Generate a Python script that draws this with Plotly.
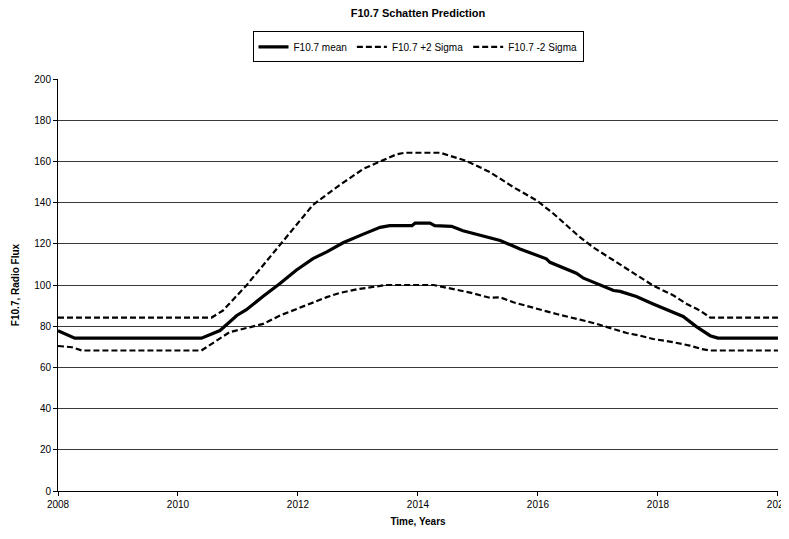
import plotly.graph_objects as go

# --- data ---
mean_years = [2008.0, 2008.28, 2010.39, 2010.70, 2010.98, 2011.14, 2011.42, 2011.70, 2011.97, 2012.25,
              2012.48, 2012.69, 2012.76, 2013.09, 2013.37, 2013.53, 2013.90, 2013.95, 2014.20, 2014.28,
              2014.56, 2014.75, 2014.98, 2015.20, 2015.37, 2015.70, 2016.14, 2016.20, 2016.64, 2016.76,
              2017.26, 2017.37, 2017.64, 2017.92, 2018.20, 2018.42, 2018.64, 2018.87, 2019.0, 2020.0]
mean_vals = [77.8, 74.2, 74.2, 77.9, 85.2, 88.0, 94.5, 100.7, 107.2, 112.8,
             116.1, 119.3, 120.6, 124.7, 128.0, 128.8, 128.8, 130.0, 130.0, 128.8,
             128.5, 126.3, 124.7, 122.8, 121.6, 117.5, 112.7, 111.0, 105.7, 103.3,
             97.3, 96.9, 94.4, 90.8, 87.6, 84.7, 79.8, 75.4, 74.2, 74.2]

plus_years = [2008.0, 2010.56, 2010.75, 2011.14, 2011.42, 2011.70, 2012.25, 2012.53, 2012.70, 2013.09,
              2013.64, 2013.78, 2014.37, 2014.81, 2015.03, 2015.20, 2015.59, 2015.98, 2016.26, 2016.70,
              2016.92, 2017.26, 2017.64, 2017.92, 2018.26, 2018.48, 2018.70, 2018.87, 2020.0]
plus_vals = [84.2, 84.2, 87.6, 99.8, 109.6, 119.3, 138.9, 145.0, 148.6, 156.4,
             163.4, 164.2, 164.2, 160.2, 157.2, 154.8, 147.5, 141.0, 134.6, 123.2,
             118.3, 111.9, 104.6, 99.7, 94.9, 90.8, 87.6, 84.2, 84.2]

minus_years = [2008.0, 2008.23, 2008.40, 2010.39, 2010.86, 2011.42, 2011.70, 2012.48, 2012.69, 2012.98,
               2013.42, 2013.48, 2014.26, 2014.48, 2014.87, 2015.20, 2015.37, 2015.59, 2015.98, 2016.31,
               2016.70, 2016.98, 2017.26, 2017.48, 2017.70, 2017.92, 2018.26, 2018.53, 2018.73, 2018.87, 2020.0]
minus_vals = [70.4, 69.8, 68.2, 68.2, 77.1, 81.1, 85.2, 94.1, 96.1, 97.9,
              99.8, 100.0, 100.0, 98.7, 96.3, 93.8, 94.0, 91.6, 88.4, 85.9,
              83.2, 81.1, 78.6, 76.7, 75.4, 73.8, 72.2, 70.6, 68.9, 68.2, 68.2]

x_ticks = [2008, 2010, 2012, 2014, 2016, 2018, 2020]
y_ticks = [0, 20, 40, 60, 80, 100, 120, 140, 160, 180, 200]

FONT = "Liberation Sans, Arial, sans-serif"

fig = go.Figure()
fig.add_trace(go.Scatter(x=mean_years, y=mean_vals, mode="lines", name="F10.7 mean",
                         line=dict(color="black", width=3.2)))
fig.add_trace(go.Scatter(x=plus_years, y=plus_vals, mode="lines", name="F10.7 +2 Sigma",
                         line=dict(color="black", width=2.2, dash="6px,3px")))
fig.add_trace(go.Scatter(x=minus_years, y=minus_vals, mode="lines", name="F10.7 -2 Sigma",
                         line=dict(color="black", width=2.2, dash="6px,3px")))

fig.update_layout(
    width=781, height=531,
    margin=dict(l=50, r=11, t=71, b=48, autoexpand=False),
    paper_bgcolor="white", plot_bgcolor="white",
    font=dict(family=FONT, size=10, color="black"),
    title=dict(text="<b>F10.7 Schatten Prediction</b>", x=0.5, xref="paper", xanchor="center",
               y=0.99, yref="container", yanchor="middle", font=dict(size=11, family=FONT, color="black")),
    showlegend=True,
    legend=dict(orientation="h", x=0.5, xanchor="center", xref="paper",
                y=1.078, yanchor="middle", yref="paper",
                bordercolor="black", borderwidth=1, bgcolor="white",
                font=dict(size=10, family=FONT), itemwidth=30,
                tracegroupgap=0),
    xaxis=dict(range=[2008, 2020.001], tickvals=x_ticks, ticktext=[str(v) for v in x_ticks],
               showline=True, linecolor="black", linewidth=1, ticks="outside", ticklen=4,
               tickcolor="black", showgrid=False, zeroline=False, ticklabeloverflow="allow",
               title=dict(text="<b>Time, Years</b>", font=dict(size=10, family=FONT), standoff=8)),
    yaxis=dict(range=[0, 200], tickvals=y_ticks, showline=True, linecolor="black", linewidth=1,
               ticks="outside", ticklen=4, tickcolor="black",
               showgrid=True, gridcolor="#3a3a3a", gridwidth=1, zeroline=False,
               title=dict(text="<b>F10.7, Radio Flux</b>", font=dict(size=10, family=FONT), standoff=12)),
)

fig.write_html("out.html")
